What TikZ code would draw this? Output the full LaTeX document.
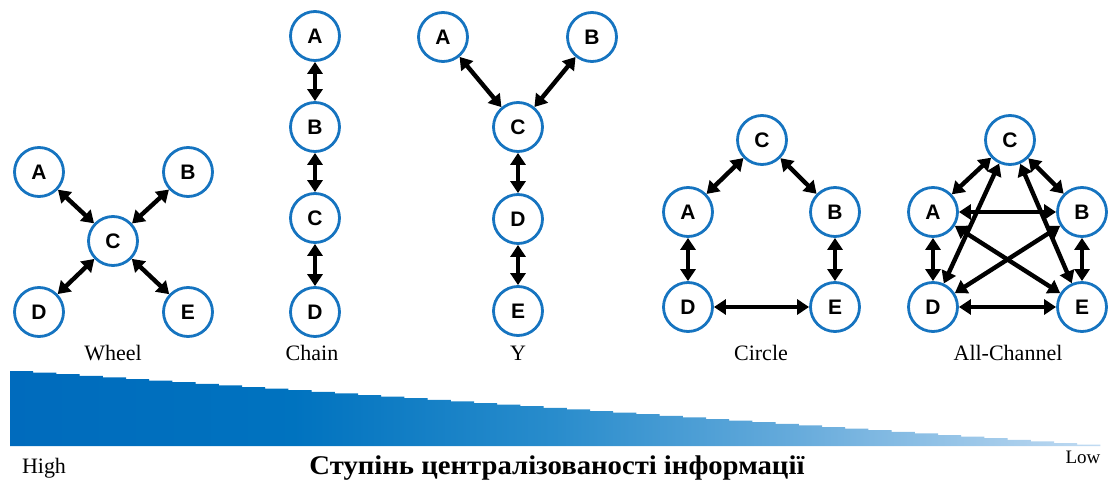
\documentclass[tikz,border=0pt]{standalone}
\usepackage{fontspec}
\setmainfont{Liberation Serif}
\setsansfont{Liberation Sans}
\usetikzlibrary{arrows.meta}
\definecolor{nodeblue}{RGB}{22,116,192}
\pgfdeclarehorizontalshading{bargrad}{100bp}{%
  rgb(0bp)=(0.0,0.42,0.74);
  rgb(25bp)=(0.0,0.42,0.74);
  rgb(38bp)=(0.0,0.45,0.75);
  rgb(50bp)=(0.16,0.55,0.80);
  rgb(61bp)=(0.40,0.67,0.86);
  rgb(75bp)=(0.76,0.86,0.95);
  rgb(100bp)=(0.76,0.86,0.95)}
\tikzset{
  nd/.style={circle, draw=nodeblue, line width=2.8pt, fill=white,
    minimum size=49pt, inner sep=0pt,
    font=\sffamily\bfseries\fontsize{21}{21}\selectfont},
  lnk/.style={line width=4.4pt,
    {Triangle[length=12pt,width=15pt]}-{Triangle[length=12pt,width=15pt]}},
  lbl/.style={font=\fontsize{22}{22}\selectfont, inner sep=0pt},
  endlbl/.style={font=\fontsize{19}{19}\selectfont, inner sep=0pt}
}
\begin{document}
\begin{tikzpicture}[x=1pt,y=-1pt]
\useasboundingbox (0,0) rectangle (1112,484);
% ---------- Wheel ----------
\node[nd] (wA) at (39,172) {A};
\node[nd] (wB) at (188,172) {B};
\node[nd] (wC) at (113,241) {C};
\node[nd] (wD) at (39,312) {D};
\node[nd] (wE) at (188,312) {E};
\draw[lnk] (wA) -- (wC);
\draw[lnk] (wB) -- (wC);
\draw[lnk] (wD) -- (wC);
\draw[lnk] (wE) -- (wC);
\node[lbl] (wL) at (113,353) {Wheel};
% ---------- Chain ----------
\node[nd] (cA) at (315,36) {A};
\node[nd] (cB) at (315,127) {B};
\node[nd] (cC) at (315,218) {C};
\node[nd] (cD) at (315,312) {D};
\draw[lnk] (cA) -- (cB);
\draw[lnk] (cB) -- (cC);
\draw[lnk] (cC) -- (cD);
\node[lbl] (cL) at (312,353) {Chain};
% ---------- Y ----------
\node[nd] (yA) at (443,37) {A};
\node[nd] (yB) at (592,37) {B};
\node[nd] (yC) at (518,127) {C};
\node[nd] (yD) at (518,219) {D};
\node[nd] (yE) at (518,311) {E};
\draw[lnk] (yA) -- (yC);
\draw[lnk] (yB) -- (yC);
\draw[lnk] (yC) -- (yD);
\draw[lnk] (yD) -- (yE);
\node[lbl] (yL) at (518,353) {Y};
% ---------- Circle ----------
\node[nd] (rC) at (762,140) {C};
\node[nd] (rA) at (688,212) {A};
\node[nd] (rB) at (835,212) {B};
\node[nd] (rD) at (688,307) {D};
\node[nd] (rE) at (835,307) {E};
\draw[lnk] (rC) -- (rA);
\draw[lnk] (rC) -- (rB);
\draw[lnk] (rA) -- (rD);
\draw[lnk] (rB) -- (rE);
\draw[lnk] (rD) -- (rE);
\node[lbl] (rL) at (761,353) {Circle};
% ---------- All-Channel ----------
\node[nd] (aC) at (1010,140) {C};
\node[nd] (aA) at (933,212) {A};
\node[nd] (aB) at (1082,212) {B};
\node[nd] (aD) at (933,307) {D};
\node[nd] (aE) at (1082,307) {E};
\draw[lnk] (aC) -- (aA);
\draw[lnk] (aC) -- (aB);
\draw[lnk] (aA) -- (aB);
\draw[lnk] (aA) -- (aD);
\draw[lnk] (aB) -- (aE);
\draw[lnk] (aD) -- (aE);
\draw[lnk] (aC) -- (aD);
\draw[lnk] (aC) -- (aE);
\draw[lnk] (aA) -- (aE);
\draw[lnk] (aB) -- (aD);
\node[lbl] (aL) at (1008,353) {All-Channel};
% ---------- gradient bar ----------
\shade[shading=bargrad] (10,446) -- (10,371)
  \foreach \i in {1,...,47} { -- ({10+\i*23.2},{371+(\i-1)*1.6}) -- ({10+\i*23.2},{371+\i*1.6}) } -- cycle;
\node[lbl] (hi) at (44,468) {High};
\node[endlbl] (lo) at (1083,457) {Low};
\node[inner sep=0pt] (title) at (557,468)
  {\resizebox{495pt}{\height}{\fontsize{27}{27}\selectfont\bfseries Ступінь централізованості інформації}};
\end{tikzpicture}
\end{document}
